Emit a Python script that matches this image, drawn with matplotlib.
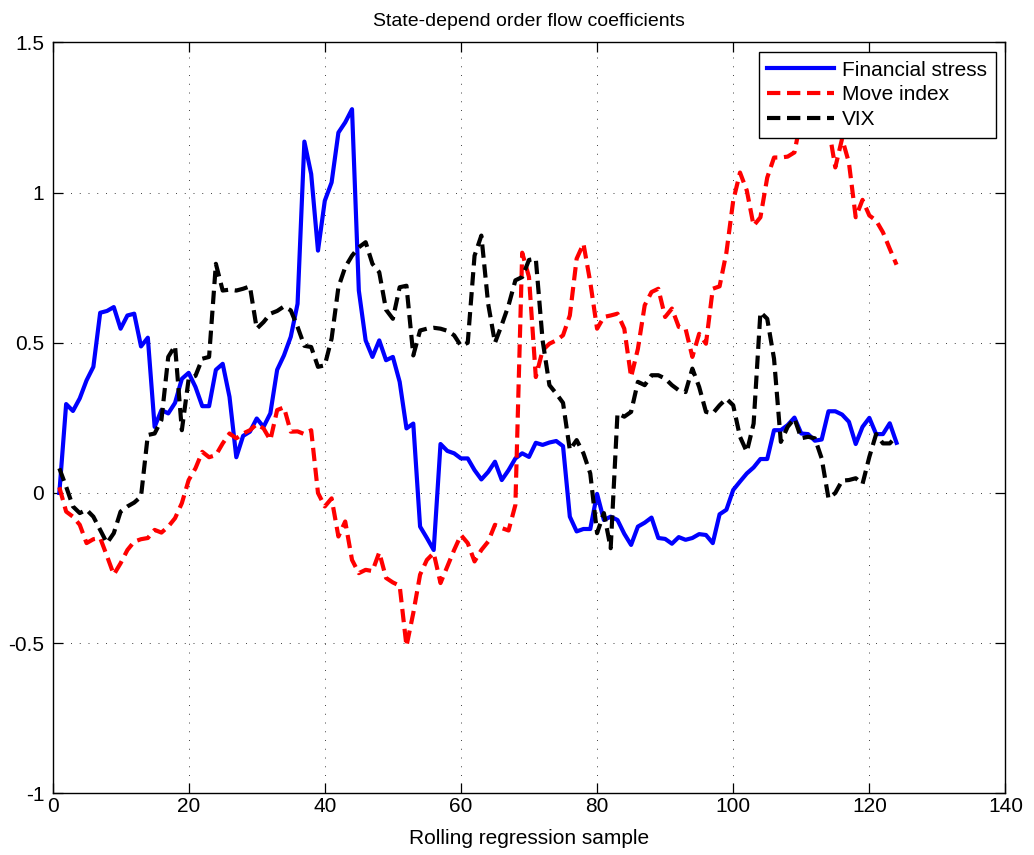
import numpy as np
import matplotlib
matplotlib.use("Agg")
import matplotlib.pyplot as plt
from matplotlib.ticker import FuncFormatter

plt.rcParams['font.family'] = ['Liberation Sans', 'DejaVu Sans']
plt.rcParams['axes.unicode_minus'] = False

title = "State-depend order flow coefficients"
xlabel = "Rolling regression sample"
labels = ["Financial stress", "Move index", "VIX"]

financial_stress = [
    0.0, 0.296, 0.273, 0.315, 0.375, 0.42, 0.60, 0.606, 0.619, 0.547,
    0.591, 0.597, 0.488, 0.517, 0.22, 0.276, 0.265, 0.30, 0.38, 0.40,
    0.353, 0.289, 0.289, 0.41, 0.43, 0.32, 0.119, 0.19, 0.204, 0.248,
    0.22, 0.265, 0.41, 0.458, 0.52, 0.63, 1.17, 1.062, 0.807, 0.973,
    1.034, 1.20, 1.234, 1.278, 0.674, 0.508, 0.453, 0.508, 0.442, 0.453,
    0.37, 0.215, 0.231, -0.112, -0.15, -0.19, 0.163, 0.14, 0.132, 0.115,
    0.115, 0.076, 0.045, 0.07, 0.104, 0.043, 0.076, 0.115, 0.132, 0.12,
    0.167, 0.16, 0.168, 0.173, 0.156, -0.079, -0.128, -0.12, -0.12, -0.003,
    -0.09, -0.079, -0.09, -0.136, -0.173, -0.112, -0.099, -0.082, -0.15, -0.153,
    -0.169, -0.147, -0.156, -0.15, -0.137, -0.14, -0.167, -0.071, -0.056, 0.01,
    0.038, 0.065, 0.085, 0.113, 0.113, 0.209, 0.209, 0.226, 0.251, 0.198,
    0.196, 0.174, 0.178, 0.272, 0.272, 0.261, 0.237, 0.163, 0.22, 0.25,
    0.196, 0.196, 0.232, 0.167,
]

move_index = [
    0.019, -0.062, -0.079, -0.106, -0.167, -0.154, -0.15, -0.21, -0.272, -0.234,
    -0.19, -0.162, -0.154, -0.15, -0.123, -0.132, -0.112, -0.084, -0.034, 0.043,
    0.082, 0.137, 0.119, 0.126, 0.165, 0.198, 0.182, 0.198, 0.209, 0.229,
    0.215, 0.176, 0.276, 0.285, 0.204, 0.205, 0.196, 0.209, 0.0, -0.045,
    -0.018, -0.145, -0.095, -0.223, -0.267, -0.256, -0.26, -0.198, -0.283, -0.298,
    -0.309, -0.51, -0.40, -0.272, -0.223, -0.2, -0.30, -0.245, -0.19, -0.14,
    -0.167, -0.228, -0.19, -0.162, -0.106, -0.117, -0.125, -0.04, 0.80, 0.719,
    0.386, 0.475, 0.497, 0.508, 0.525, 0.591, 0.78, 0.83, 0.702, 0.547,
    0.586, 0.591, 0.597, 0.547, 0.386, 0.48, 0.625, 0.669, 0.68, 0.586,
    0.614, 0.553, 0.547, 0.453, 0.53, 0.497, 0.68, 0.688, 0.80, 0.973,
    1.067, 1.007, 0.89, 0.918, 1.05, 1.117, 1.117, 1.12, 1.134, 1.25,
    1.30, 1.35, 1.30, 1.22, 1.084, 1.18, 1.10, 0.918, 0.976, 0.924,
    0.907, 0.868, 0.813, 0.76,
]

vix = [
    0.082, 0.021, -0.045, -0.067, -0.056, -0.079, -0.123, -0.167, -0.134, -0.062,
    -0.045, -0.032, -0.012, 0.193, 0.198, 0.243, 0.453, 0.49, 0.209, 0.38,
    0.39, 0.447, 0.453, 0.763, 0.674, 0.677, 0.674, 0.68, 0.688, 0.547,
    0.569, 0.597, 0.606, 0.621, 0.608, 0.553, 0.49, 0.486, 0.42, 0.425,
    0.514, 0.685, 0.752, 0.79, 0.818, 0.835, 0.763, 0.735, 0.61, 0.58,
    0.685, 0.69, 0.458, 0.541, 0.547, 0.55, 0.547, 0.54, 0.525, 0.49,
    0.5, 0.79, 0.857, 0.63, 0.5, 0.56, 0.625, 0.708, 0.719, 0.776,
    0.78, 0.508, 0.359, 0.331, 0.30, 0.143, 0.176, 0.132, 0.065, -0.134,
    -0.067, -0.184, 0.265, 0.254, 0.27, 0.37, 0.359, 0.392, 0.392, 0.381,
    0.359, 0.342, 0.336, 0.414, 0.353, 0.27, 0.265, 0.292, 0.314, 0.292,
    0.187, 0.137, 0.231, 0.602, 0.58, 0.447, 0.17, 0.22, 0.248, 0.182,
    0.187, 0.182, 0.115, -0.018, 0.0, 0.041, 0.043, 0.049, 0.03, 0.12,
    0.196, 0.165, 0.165, 0.189,
]

x = np.arange(1, len(financial_stress) + 1)

fig = plt.figure(figsize=(10.34, 8.55), dpi=100)
ax = fig.add_axes([0.0508, 0.0722, 0.9216, 0.8781])

lw = 3.0
ax.plot(x, financial_stress, color='#0000ff', lw=lw, label=labels[0], solid_joinstyle='round')
ax.plot(x, move_index, color='#ff0000', lw=lw, linestyle=(0, (3.2, 1.6)), label=labels[1])
ax.plot(x, vix, color='#000000', lw=lw, linestyle=(0, (3.2, 1.6)), label=labels[2])

ax.set_xlim(0, 140)
ax.set_ylim(-1, 1.5)
ax.set_xticks(np.arange(0, 141, 20))
ax.set_yticks(np.arange(-1, 1.51, 0.5))
ax.yaxis.set_major_formatter(FuncFormatter(lambda v, p: '%g' % v))

ax.grid(True, color='0.25', linestyle=(0, (1, 8)), linewidth=0.7)
ax.tick_params(direction='in', length=7, width=0.9, top=True, right=True,
               labelsize=15, colors='k')
ax.tick_params(axis='y', pad=6)
ax.tick_params(axis='x', pad=3)
for s in ax.spines.values():
    s.set_linewidth(1.0)
    s.set_color('k')

ax.set_title(title, fontsize=14, pad=12)
ax.set_xlabel(xlabel, fontsize=15, labelpad=9)

leg = ax.legend(loc='upper right', fontsize=15, fancybox=False, framealpha=1,
                edgecolor='k', handlelength=3.2, handletextpad=0.4,
                labelspacing=0.27, borderaxespad=0.45, borderpad=0.42)
leg.get_frame().set_linewidth(1.0)

fig.savefig('out.png', dpi=100)
